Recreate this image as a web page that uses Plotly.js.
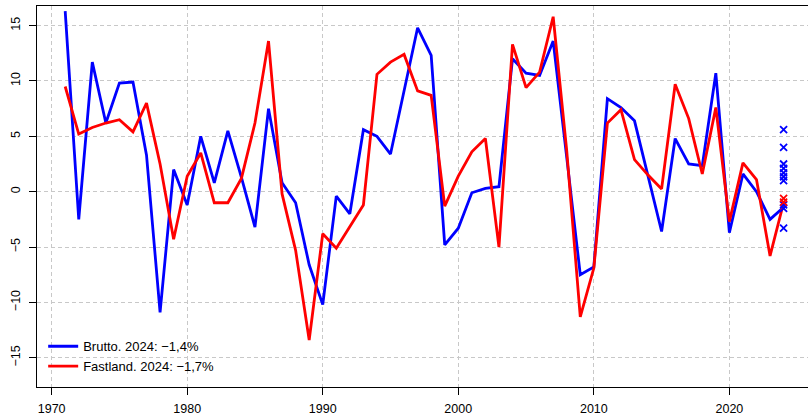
<!DOCTYPE html>
<html>
<head>
<meta charset="utf-8">
<script src="https://cdn.plot.ly/plotly-3.0.1.min.js"></script>
<style>html,body{margin:0;padding:0;overflow:hidden;background:#fff}</style>
</head>
<body>
<div id="chart" style="width:809px;height:417px"></div>
<script>
const years = [1971,1972,1973,1974,1975,1976,1977,1978,1979,1980,1981,1982,1983,1984,1985,1986,1987,1988,1989,1990,1991,1992,1993,1994,1995,1996,1997,1998,1999,2000,2001,2002,2003,2004,2005,2006,2007,2008,2009,2010,2011,2012,2013,2014,2015,2016,2017,2018,2019,2020,2021,2022,2023,2024];
const brutto = [16.3,-2.5,11.7,6.2,9.8,9.9,3.3,-10.9,2.0,-1.2,5.0,0.8,5.5,1.3,-3.2,7.5,0.8,-1.0,-6.6,-10.2,-0.4,-2.0,5.6,5.0,3.4,9.1,14.8,12.3,-4.8,-3.3,-0.1,0.3,0.45,12.0,10.7,10.5,13.6,3.1,-7.5,-6.8,8.4,7.6,6.4,1.4,-3.6,4.8,2.5,2.35,10.7,-3.7,1.6,0.0,-2.5,-1.4];
const fastland = [9.5,5.2,5.8,6.2,6.5,5.4,8.0,2.5,-4.3,1.4,3.5,-1.0,-1.0,1.2,6.2,13.6,-0.2,-5.3,-13.4,-3.8,-5.1,-3.1,-1.2,10.6,11.7,12.4,9.1,8.7,-1.3,1.4,3.6,4.8,-5.0,13.3,9.4,10.8,15.8,3.7,-11.3,-6.9,6.2,7.4,2.9,1.5,0.25,9.7,6.6,1.6,7.6,-2.7,2.6,1.1,-5.8,-1.0];
const forecastYear = 2024;
const bruttoForecasts = [5.6,4.0,2.5,2.1,1.7,1.35,1.0,-1.2,-1.5,-3.3];
const fastlandForecasts = [-0.6,-0.95];
const legendBrutto = "Brutto. 2024: \u22121,4%";
const legendFastland = "Fastland. 2024: \u22121,7%";
const xTicks = [1970,1980,1990,2000,2010,2020];
const yTicks = [-15,-10,-5,0,5,10,15];

const traces = [
  {x: years, y: brutto, type: 'scatter', mode: 'lines', name: legendBrutto,
   line: {color: '#0000FF', width: 2.8}},
  {x: years, y: fastland, type: 'scatter', mode: 'lines', name: legendFastland,
   line: {color: '#FF0000', width: 2.8}},
  {x: bruttoForecasts.map(() => forecastYear), y: bruttoForecasts, type: 'scatter', mode: 'markers',
   showlegend: false, marker: {symbol: 'x-thin', size: 7, line: {color: '#0000FF', width: 1.8}}},
  {x: fastlandForecasts.map(() => forecastYear), y: fastlandForecasts, type: 'scatter', mode: 'markers',
   showlegend: false, marker: {symbol: 'x-thin', size: 7, line: {color: '#FF0000', width: 1.8}}}
];

const layout = {
  width: 809, height: 417,
  margin: {l: 37, r: 1, t: 6, b: 30},
  paper_bgcolor: '#fff', plot_bgcolor: '#fff',
  font: {family: 'Liberation Sans, Arial, sans-serif', size: 12.5, color: '#000'},
  showlegend: true,
  legend: {x: 0.008, y: 0.015, xanchor: 'left', yanchor: 'bottom', bgcolor: 'rgba(0,0,0,0)',
           font: {size: 13}, tracegroupgap: 0},
  xaxis: {range: [1968.92, 2025.8], tickvals: xTicks, ticktext: xTicks.map(String),
          showgrid: true, gridcolor: '#c8c8c8', griddash: '4px,3px', gridwidth: 1,
          zeroline: false, showline: true, linecolor: '#000', linewidth: 1.3, mirror: true,
          ticks: 'outside', ticklen: 7, tickcolor: '#000', tickwidth: 1, ticklabelstandoff: 3},
  yaxis: {range: [-17.64, 16.77], tickvals: yTicks, ticktext: yTicks.map(v => v < 0 ? '\u2212' + Math.abs(v) : String(v)),
          tickangle: -90,
          showgrid: true, gridcolor: '#c8c8c8', griddash: '4px,3px', gridwidth: 1,
          zeroline: false, showline: true, linecolor: '#000', linewidth: 1.3, mirror: false,
          ticks: 'outside', ticklen: 7, tickcolor: '#000', tickwidth: 1, ticklabelstandoff: 4}
};

Plotly.newPlot('chart', traces, layout, {displayModeBar: false, staticPlot: true});
</script>
</body>
</html>
